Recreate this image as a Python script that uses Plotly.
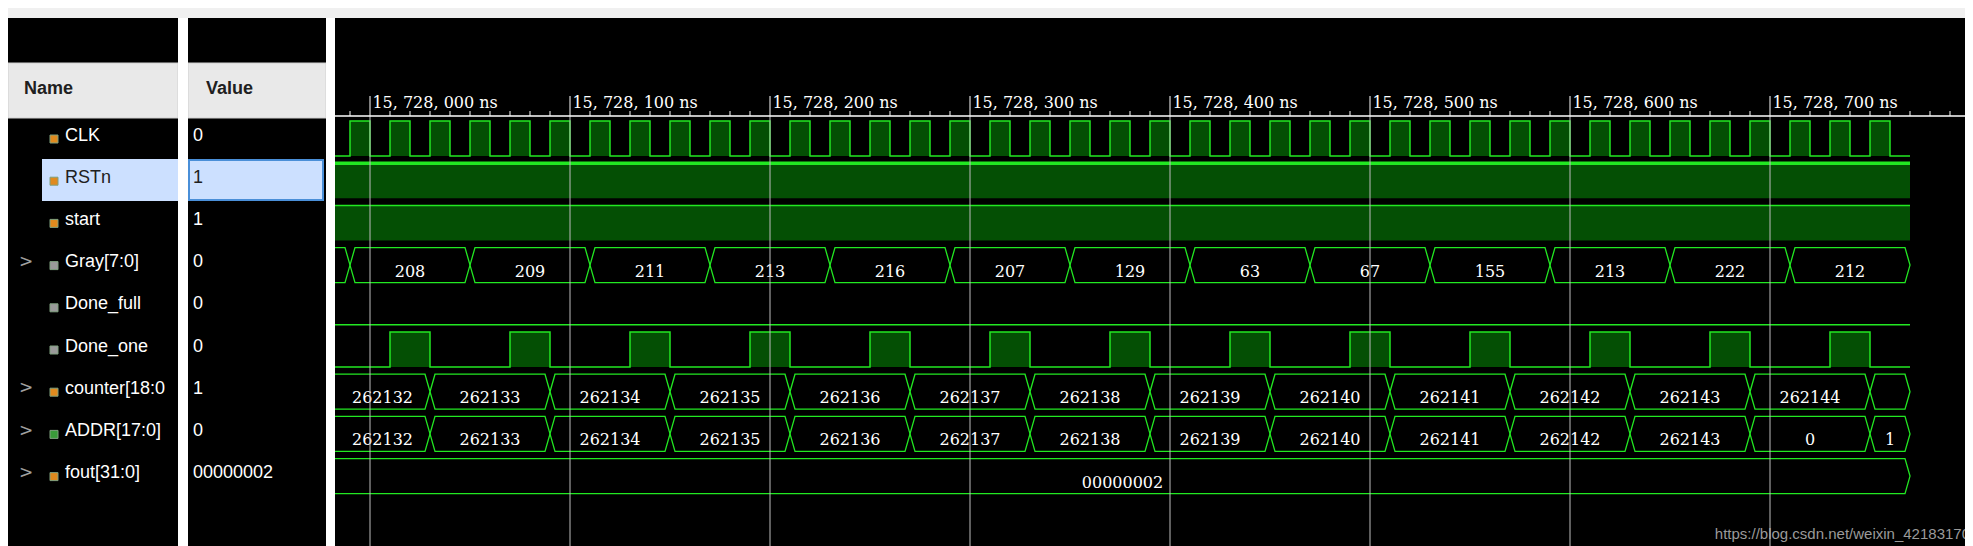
import plotly.graph_objects as go

W, H = 1973, 546
# ---------------- data ----------------
signal_names = ["CLK", "RSTn", "start", "Gray[7:0]", "Done_full", "Done_one", "counter[18:0", "ADDR[17:0]", "fout[31:0]"]
signal_values = ["0", "1", "1", "0", "0", "0", "1", "0", "00000002"]
bus_rows = ["Gray[7:0]", "counter[18:0", "ADDR[17:0]", "fout[31:0]"]

tick_ns = [0, 100, 200, 300, 400, 500, 600, 700, 800]
tick_labels = ["15, 728, 000 ns", "15, 728, 100 ns", "15, 728, 200 ns", "15, 728, 300 ns",
               "15, 728, 400 ns", "15, 728, 500 ns", "15, 728, 600 ns", "15, 728, 700 ns", "15, 728, 800 ns"]

clk_rise = [-10, 10, 30, 50, 70, 90, 110, 130, 150, 170, 190, 210, 230, 250, 270, 290, 310, 330, 350,
            370, 390, 410, 430, 450, 470, 490, 510, 530, 550, 570, 590, 610, 630, 650, 670, 690, 710, 730, 750]
clk_fall = [0, 20, 40, 60, 80, 100, 120, 140, 160, 180, 200, 220, 240, 260, 280, 300, 320, 340, 360,
            380, 400, 420, 440, 460, 480, 500, 520, 540, 560, 580, 600, 620, 640, 660, 680, 700, 720, 740, 760]

gray_edges = [-17.5, -10, 50, 110, 170, 230, 290, 350, 410, 470, 530, 590, 650, 710, 770]
gray_vals = ["", "208", "209", "211", "213", "216", "207", "129", "63", "67", "155", "213", "222", "212"]

done_one_rise = [10, 70, 130, 190, 250, 310, 370, 430, 490, 550, 610, 670, 730]
done_one_fall = [30, 90, 150, 210, 270, 330, 390, 450, 510, 570, 630, 690, 750]

cnt_edges = [-17.5, 30, 90, 150, 210, 270, 330, 390, 450, 510, 570, 630, 690, 750, 770]
counter_vals = ["262132", "262133", "262134", "262135", "262136", "262137", "262138", "262139",
                "262140", "262141", "262142", "262143", "262144", ""]
addr_vals = ["262132", "262133", "262134", "262135", "262136", "262137", "262138", "262139",
             "262140", "262141", "262142", "262143", "0", "1"]

fout_edges = [-17.5, 770]
fout_vals = ["00000002"]

T_START, T_END = -17.5, 805.5
# ---------------- styling ----------------
GREEN = "#22e822"
FILL = "#044f04"
GRID = "#bdbdbd"
ROW0, PITCH = 128, 42.2

def row_c(i): return ROW0 + PITCH * i
def row_top(i): return row_c(i) - 15
def row_bot(i): return row_c(i) + 20

fig = go.Figure()

def add(tr):
    tr.update(xaxis="x2", yaxis="y", showlegend=False, hoverinfo="skip")
    fig.add_trace(tr)

# RSTn and start: constant high
for i, thick in [(1, 3.5), (2, 1.5)]:
    add(go.Scatter(x=[T_START, 770, 770, T_START, T_START],
                   y=[row_top(i), row_top(i), row_bot(i), row_bot(i), row_top(i)],
                   fill="toself", fillcolor=FILL, mode="none"))
    add(go.Scatter(x=[T_START, 770], y=[row_top(i), row_top(i)], mode="lines",
                   line=dict(color=GREEN, width=thick)))

# CLK
for r, f in zip(clk_rise, clk_fall):
    add(go.Scatter(x=[r, f, f, r, r], y=[row_top(0), row_top(0), row_bot(0), row_bot(0), row_top(0)],
                   fill="toself", fillcolor=FILL, mode="none"))
xs = [T_START]; ys = [row_bot(0)]
for r, f in zip(clk_rise, clk_fall):
    xs += [r, r, f, f]; ys += [row_bot(0), row_top(0), row_top(0), row_bot(0)]
xs.append(770); ys.append(row_bot(0))
add(go.Scatter(x=xs, y=ys, mode="lines", line=dict(color=GREEN, width=1.5)))

# Done_full flat low
add(go.Scatter(x=[T_START, 770], y=[row_bot(4), row_bot(4)], mode="lines", line=dict(color=GREEN, width=1.5)))

# Done_one
for r, f in zip(done_one_rise, done_one_fall):
    add(go.Scatter(x=[r, f, f, r, r], y=[row_top(5), row_top(5), row_bot(5), row_bot(5), row_top(5)],
                   fill="toself", fillcolor=FILL, mode="none"))
xs = [T_START]; ys = [row_bot(5)]
for r, f in zip(done_one_rise, done_one_fall):
    xs += [r, r, f, f]; ys += [row_bot(5), row_top(5), row_top(5), row_bot(5)]
xs.append(770); ys.append(row_bot(5))
add(go.Scatter(x=xs, y=ys, mode="lines", line=dict(color=GREEN, width=1.5)))

# buses
def bus(i, edges, vals):
    d = 2.5
    t, b = row_top(i), row_bot(i)
    m = (t + b) / 2
    xs, ys = [], []
    tx, ty, tt = [], [], []
    for k, v in enumerate(vals):
        a, e = edges[k], edges[k + 1]
        if a <= T_START:
            xs += [a, e - d, e, e - d, a, None]
            ys += [t, t, m, b, b, None]
        else:
            xs += [a, a + d, e - d, e, e - d, a + d, a, None]
            ys += [m, t, t, m, b, b, m, None]
        if v:
            tx.append((a + e) / 2); ty.append(b - 10); tt.append(v)
    add(go.Scatter(x=xs, y=ys, mode="lines", line=dict(color=GREEN, width=1.3)))
    add(go.Scatter(x=tx, y=ty, mode="text", text=tt,
                   textfont=dict(family="DejaVu Serif", size=16, color="white")))

bus(3, gray_edges, gray_vals)
bus(6, cnt_edges, counter_vals)
bus(7, cnt_edges, addr_vals)
bus(8, fout_edges, fout_vals)

# grid lines
gx, gy = [], []
for t in tick_ns:
    gx += [t, t, None]; gy += [108, H, None]
add(go.Scatter(x=gx, y=gy, mode="lines", line=dict(color=GRID, width=1)))

# time axis
add(go.Scatter(x=[T_START, T_END], y=[108, 108], mode="lines", line=dict(color="white", width=1.5)))
mx, my = [], []
for t in range(-10, 806, 10):
    top = 88 if t in tick_ns else 103
    mx += [t, t, None]; my += [top, 108, None]
add(go.Scatter(x=mx, y=my, mode="lines", line=dict(color="white", width=1)))
add(go.Scatter(x=[t + 1.2 for t in tick_ns], y=[96] * len(tick_ns), mode="text", text=tick_labels,
               textposition="middle right", textfont=dict(family="DejaVu Serif", size=16, color="white")))

# ---------------- left panel (pixel axis) ----------------
shapes = [
    dict(type="rect", x0=0, x1=W, y0=0, y1=H, fillcolor="black", line_width=0, layer="below"),
    dict(type="rect", x0=0, x1=W, y0=0, y1=10, fillcolor="#f0f0f0", line_width=0, layer="below"),
    dict(type="rect", x0=0, x1=170, y0=55, y1=110, fillcolor="#e9e9e9", line=dict(color="#d0d0d0", width=1), layer="below"),
    dict(type="rect", x0=180, x1=318, y0=55, y1=110, fillcolor="#e9e9e9", line=dict(color="#d0d0d0", width=1), layer="below"),
    dict(type="rect", x0=170, x1=180, y0=10, y1=H, fillcolor="white", line_width=0, layer="below"),
    dict(type="rect", x0=318, x1=327, y0=10, y1=H, fillcolor="white", line_width=0, layer="below"),
    dict(type="rect", x0=34, x1=170, y0=151, y1=193, fillcolor="#cce0ff", line_width=0, layer="below"),
    dict(type="rect", x0=181, x1=315, y0=152, y1=192, fillcolor="#cce0ff", line=dict(color="#4a8fd8", width=2), layer="below"),
]
for s in shapes:
    s.update(xref="x", yref="y")

def ptxt(x, y, txt, color, size=18, bold=False, pos="middle right", family="Liberation Sans"):
    fig.add_trace(go.Scatter(x=x, y=y, mode="text", text=txt, textposition=pos, xaxis="x", yaxis="y",
                             showlegend=False, hoverinfo="skip", cliponaxis=False,
                             textfont=dict(family=family, size=size, color=color,
                                           weight="bold" if bold else "normal")))

ptxt([16, 198], [81, 81], ["Name", "Value"], "#202020", 18, True)
name_colors = ["#202020" if i == 1 else "white" for i in range(len(signal_names))]
ys_rows = [row_c(i) for i in range(len(signal_names))]
ptxt([57] * len(signal_names), ys_rows, signal_names, name_colors)
ptxt([185] * len(signal_values), ys_rows, signal_values, name_colors)
icon_c = ["#e08a1e", "#e08a1e", "#e08a1e", "#9a9a9a", "#9a9a9a", "#9a9a9a", "#e08a1e", "#3a9a3a", "#e08a1e"]
fig.add_trace(go.Scatter(x=[46] * len(signal_names), y=[y + 3 for y in ys_rows], mode="markers",
                         marker=dict(symbol="square", size=8, color=icon_c, line=dict(color="#7fa07f", width=1)),
                         xaxis="x", yaxis="y", showlegend=False, hoverinfo="skip"))
chev_y = [row_c(signal_names.index(n)) for n in bus_rows]
ptxt([11] * len(chev_y), chev_y, [">"] * len(chev_y), "#a0a0a0", 17, False, "middle right", "DejaVu Sans")

ptxt([1962], [527], ["https://blog.csdn.net/weixin_42183170"], "#9a9a9a", 15, False, "middle left")

fig.update_layout(
    width=W, height=H, margin=dict(l=0, r=0, t=0, b=0),
    paper_bgcolor="black", plot_bgcolor="rgba(0,0,0,0)", shapes=shapes,
    xaxis=dict(range=[0, W], domain=[0, 1], visible=False, fixedrange=True, anchor="y"),
    xaxis2=dict(range=[T_START, T_END], domain=[327 / W, 1], visible=False, fixedrange=True, anchor="y"),
    yaxis=dict(range=[H, 0], domain=[0, 1], visible=False, fixedrange=True, anchor="x"),
)
fig.write_html("out.html")
